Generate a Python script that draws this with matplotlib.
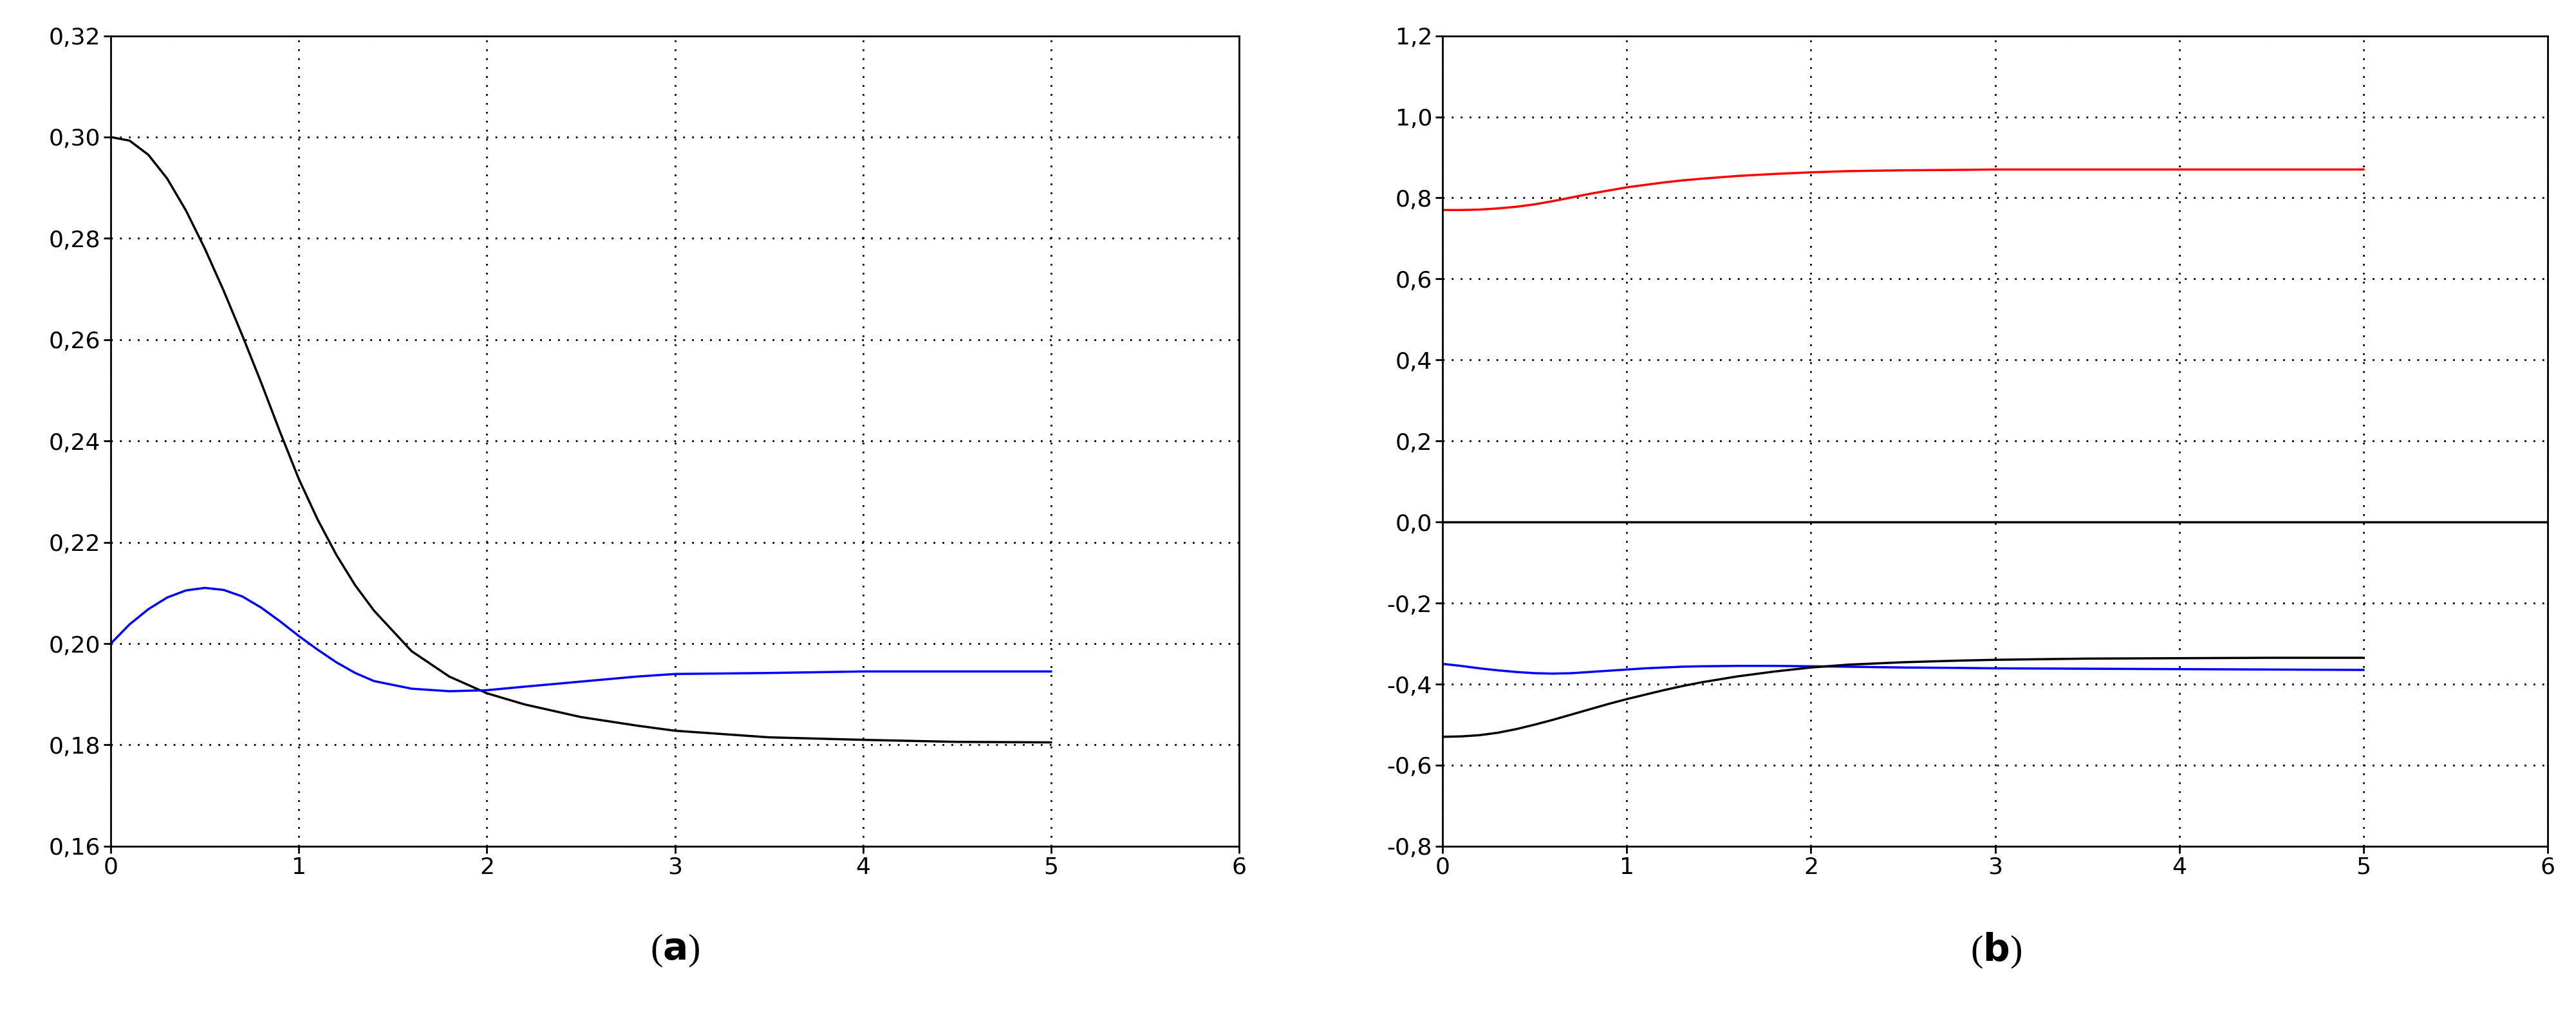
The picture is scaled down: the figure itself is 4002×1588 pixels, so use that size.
import numpy as np
import matplotlib.pyplot as plt
from matplotlib.ticker import FuncFormatter

t = [0, 0.1, 0.2, 0.3, 0.4, 0.5, 0.6, 0.7, 0.8, 0.9, 1.0, 1.1, 1.2, 1.3, 1.4, 1.6, 1.8, 2.0, 2.2, 2.5, 2.8, 3.0, 3.5, 4.0, 4.5, 5.0]

# panel (a)
a_black = [0.300, 0.2993, 0.2965, 0.2918, 0.2855, 0.278, 0.2697, 0.2608, 0.2515, 0.2418, 0.2325, 0.2245, 0.2175, 0.2115, 0.2065, 0.1985, 0.1935, 0.1902, 0.188, 0.1855, 0.1838, 0.1828, 0.1815, 0.181, 0.1806, 0.1805]
a_blue = [0.200, 0.2038, 0.2068, 0.2091, 0.2105, 0.2110, 0.2106, 0.2093, 0.2071, 0.2044, 0.2015, 0.1988, 0.1963, 0.1942, 0.1926, 0.1911, 0.1906, 0.1908, 0.1915, 0.1925, 0.1935, 0.194, 0.1942, 0.1945, 0.1945, 0.1945]

# panel (b)
b_red = [0.77, 0.77, 0.771, 0.774, 0.778, 0.784, 0.792, 0.801, 0.81, 0.818, 0.826, 0.832, 0.838, 0.843, 0.847, 0.854, 0.859, 0.863, 0.866, 0.868, 0.869, 0.87, 0.87, 0.87, 0.87, 0.87]
b_blue = [-0.350, -0.355, -0.361, -0.366, -0.370, -0.373, -0.374, -0.373, -0.370, -0.367, -0.364, -0.361, -0.359, -0.357, -0.356, -0.355, -0.355, -0.356, -0.357, -0.359, -0.360, -0.361, -0.362, -0.363, -0.364, -0.365]
b_black = [-0.530, -0.529, -0.526, -0.520, -0.511, -0.500, -0.488, -0.475, -0.462, -0.449, -0.437, -0.426, -0.415, -0.405, -0.396, -0.381, -0.369, -0.359, -0.352, -0.346, -0.342, -0.340, -0.337, -0.336, -0.335, -0.335]

comma = FuncFormatter(lambda v, p: ('%.1f' % (0.0 if abs(v) < 1e-9 else v)).replace('.', ','))
comma2 = FuncFormatter(lambda v, p: ('%.2f' % v).replace('.', ','))

fig = plt.figure(figsize=(40.02, 15.88), dpi=100)
ax1 = fig.add_axes([0.043, 0.172, 0.438, 0.793])
ax2 = fig.add_axes([0.560, 0.172, 0.429, 0.793])

ax1.plot(t, a_black, color='black', lw=2.5)
ax1.plot(t, a_blue, color='blue', lw=2.5)
ax1.set_ylim(0.16, 0.32)
ax1.set_yticks(np.arange(0.16, 0.3201, 0.02))
ax1.yaxis.set_major_formatter(comma2)

ax2.axhline(0, color='black', lw=2.5)
ax2.plot(t, b_red, color='red', lw=2.5)
ax2.plot(t, b_blue, color='blue', lw=2.5)
ax2.plot(t, b_black, color='black', lw=2.5)
ax2.set_ylim(-0.8, 1.2)
ax2.set_yticks(np.arange(-0.8, 1.201, 0.2))
ax2.yaxis.set_major_formatter(comma)

for ax in (ax1, ax2):
    ax.set_xlim(0, 6)
    ax.set_xticks(range(7))
    ax.grid(True, color='black', linestyle=(0, (1, 4)), lw=2)
    ax.tick_params(labelsize=26, length=8, width=2)
    for s in ax.spines.values():
        s.set_linewidth(2)

fig.text(0.262, 0.07, r'($\mathbf{a}$)', fontsize=42, ha='center', va='center', family='Liberation Serif')
fig.text(0.775, 0.07, r'($\mathbf{b}$)', fontsize=42, ha='center', va='center', family='Liberation Serif')
fig.savefig('out.png', dpi=100)
